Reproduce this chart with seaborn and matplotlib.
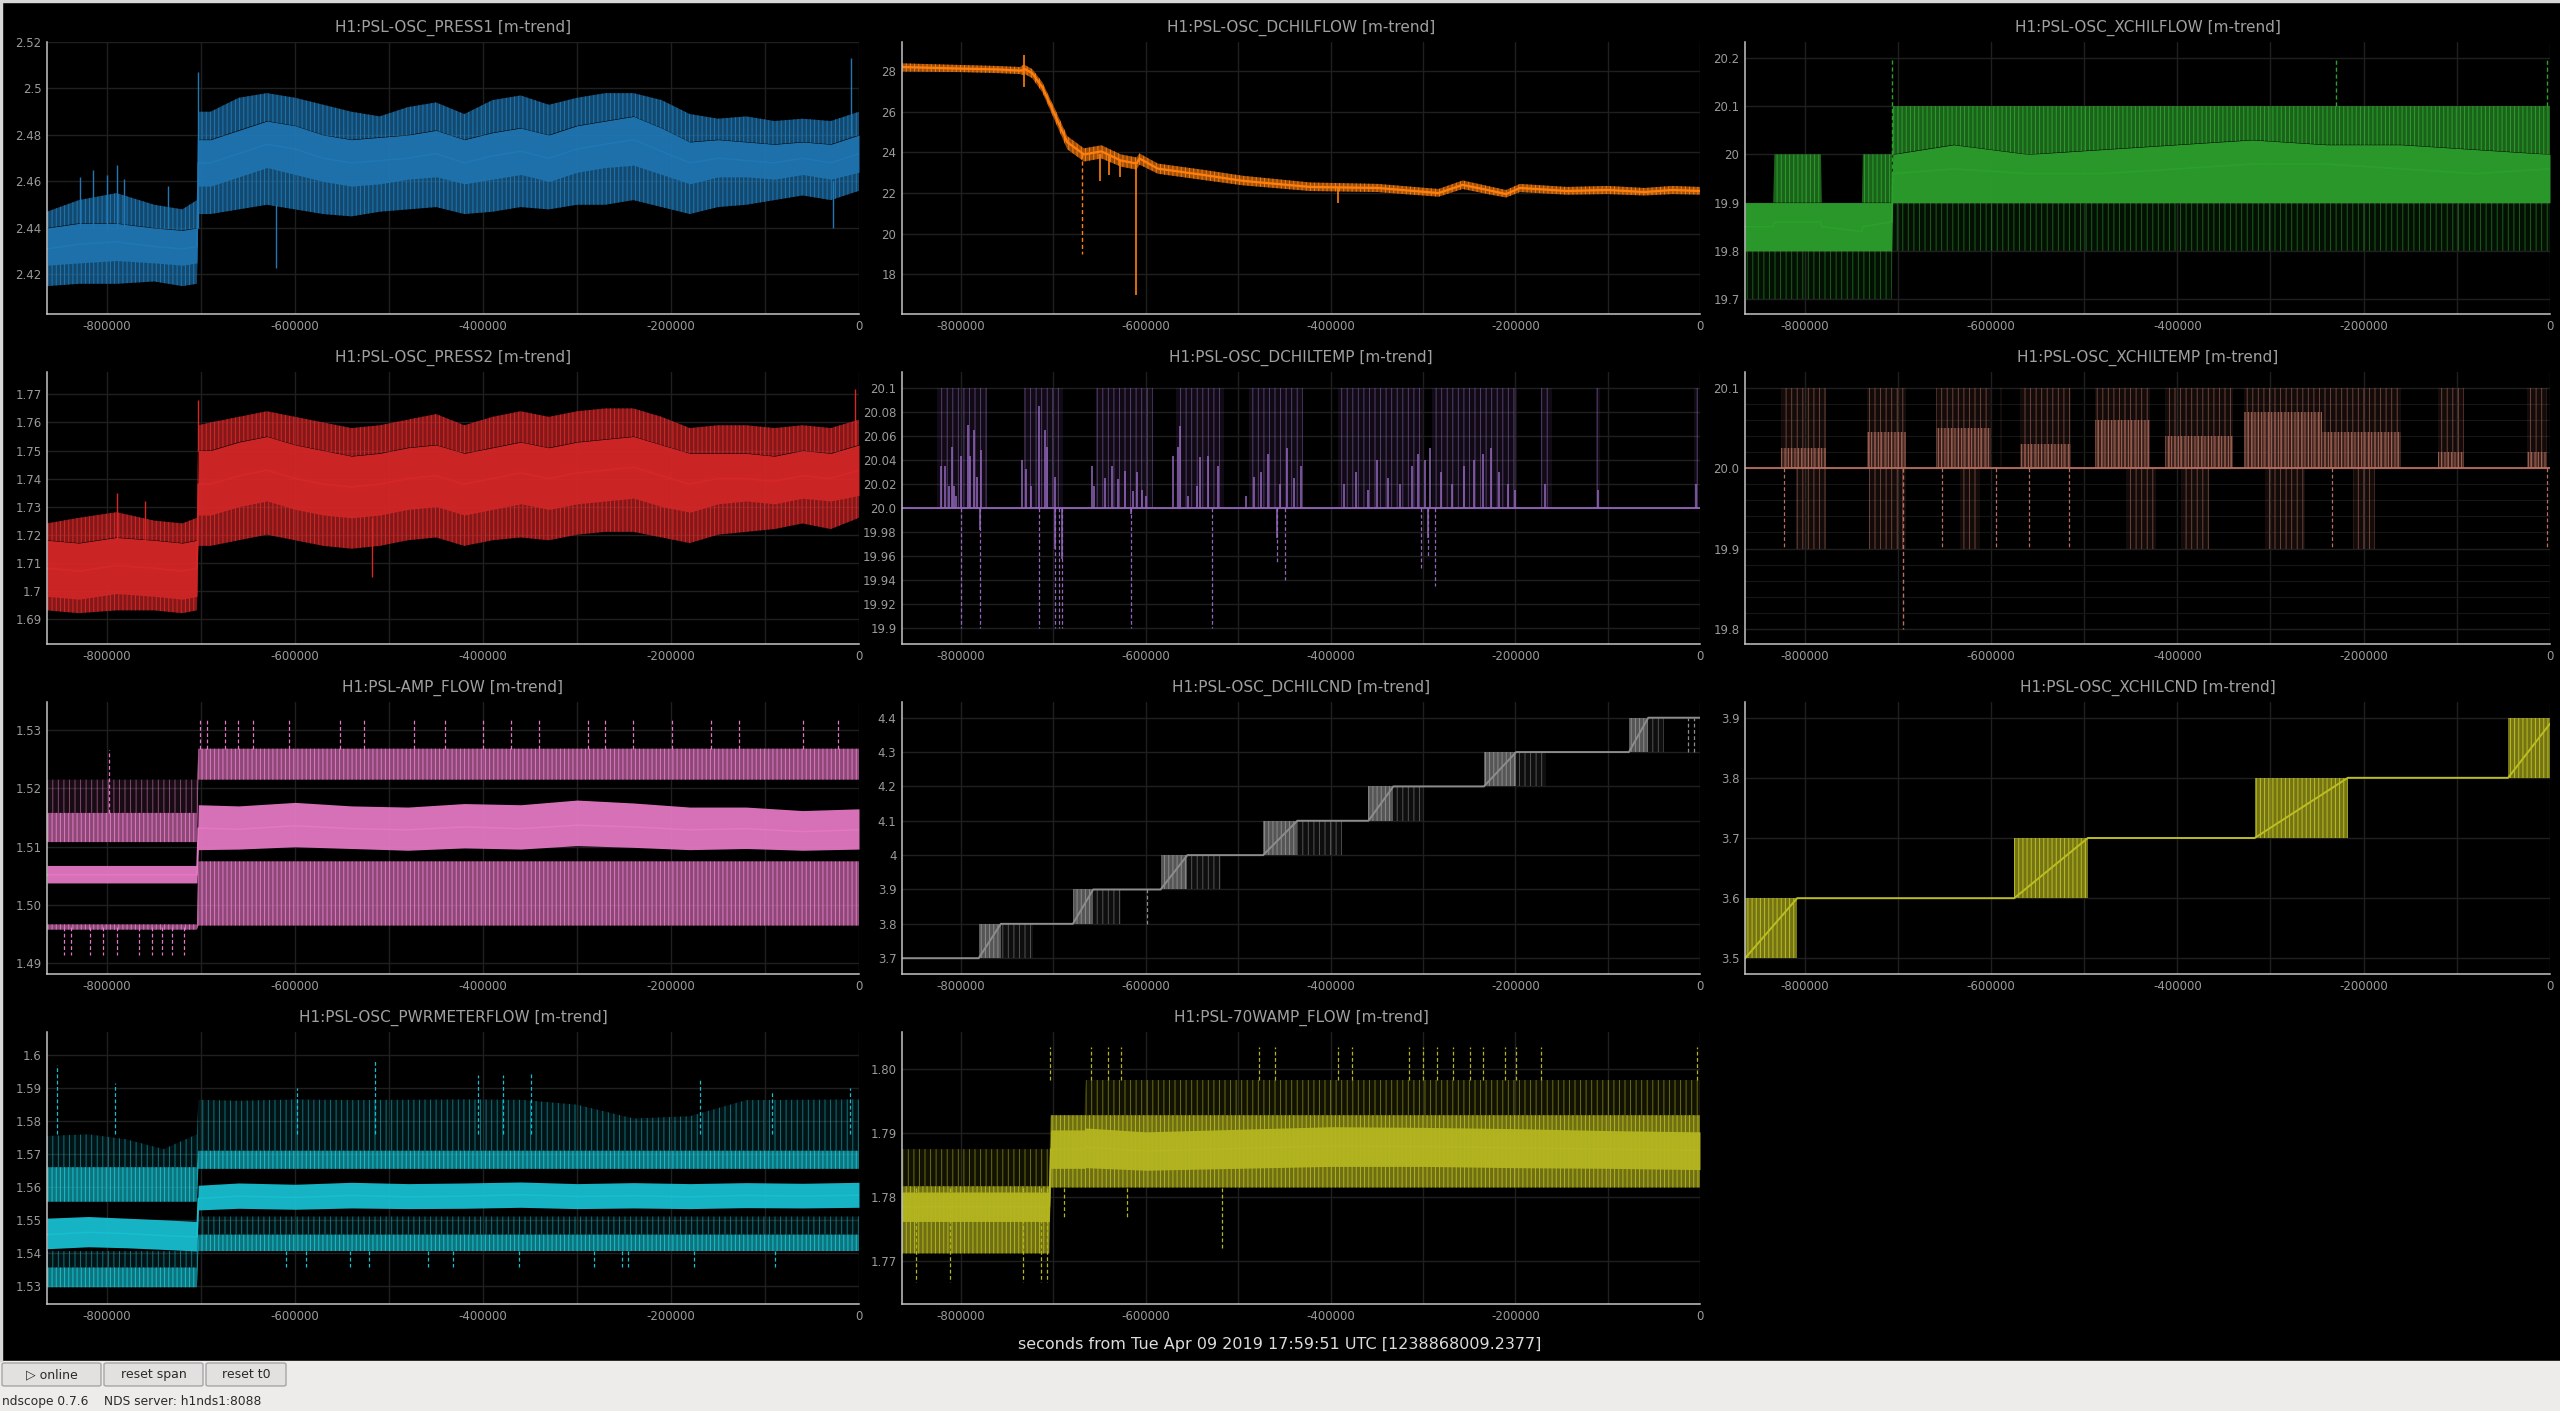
import matplotlib
matplotlib.use("Agg")
import matplotlib.pyplot as plt
import seaborn as sns
from matplotlib.colors import to_rgba
from matplotlib.patches import Rectangle, FancyBboxPatch
from matplotlib.ticker import MultipleLocator, FuncFormatter

# ---------------- data ----------------
XMIN = -864000

# H1:PSL-OSC_PRESS1
p1_t = [-864000, -830000, -790000, -750000, -720000, -704500, -703000, -690000, -660000, -630000, -600000,
        -570000, -540000, -510000, -480000, -450000, -420000, -390000, -360000, -330000, -300000, -270000,
        -240000, -210000, -180000, -150000, -120000, -90000, -60000, -30000, 0]
p1_mean = [2.431, 2.433, 2.434, 2.432, 2.431, 2.432, 2.468, 2.468, 2.472, 2.476, 2.474, 2.470, 2.468, 2.469,
           2.470, 2.472, 2.468, 2.471, 2.473, 2.470, 2.474, 2.476, 2.478, 2.473, 2.468, 2.470, 2.469, 2.468,
           2.470, 2.468, 2.472]
p1_core_lo = [2.424, 2.425, 2.426, 2.425, 2.424, 2.425, 2.458, 2.458, 2.462, 2.466, 2.463, 2.460, 2.458, 2.459,
              2.461, 2.462, 2.459, 2.461, 2.463, 2.460, 2.464, 2.466, 2.467, 2.463, 2.459, 2.462, 2.462, 2.461,
              2.463, 2.461, 2.464]
p1_core_hi = [2.440, 2.442, 2.442, 2.440, 2.439, 2.440, 2.478, 2.478, 2.482, 2.486, 2.484, 2.480, 2.478, 2.479,
              2.480, 2.482, 2.478, 2.481, 2.483, 2.480, 2.484, 2.486, 2.488, 2.483, 2.477, 2.478, 2.477, 2.476,
              2.477, 2.476, 2.480]
p1_min = [2.415, 2.416, 2.416, 2.417, 2.415, 2.416, 2.446, 2.446, 2.448, 2.450, 2.448, 2.446, 2.445, 2.447,
          2.448, 2.449, 2.446, 2.447, 2.449, 2.448, 2.450, 2.450, 2.452, 2.449, 2.446, 2.449, 2.450, 2.452,
          2.454, 2.452, 2.456]
p1_max = [2.447, 2.452, 2.455, 2.450, 2.448, 2.452, 2.490, 2.490, 2.496, 2.498, 2.496, 2.493, 2.490, 2.488,
          2.492, 2.494, 2.489, 2.495, 2.497, 2.493, 2.496, 2.498, 2.498, 2.495, 2.489, 2.487, 2.488, 2.486,
          2.487, 2.486, 2.490]
p1_spikes = [(-829000, 2.44, 2.462), (-815000, 2.44, 2.465), (-800000, 2.44, 2.463), (-790000, 2.44, 2.467),
             (-782000, 2.44, 2.461), (-735000, 2.44, 2.458), (-703500, 2.44, 2.507), (-620000, 2.45, 2.423),
             (-28000, 2.46, 2.44), (-9000, 2.48, 2.513)]

# H1:PSL-OSC_PRESS2
p2_mean = [1.708, 1.707, 1.709, 1.708, 1.707, 1.708, 1.738, 1.738, 1.741, 1.743, 1.740, 1.738, 1.737, 1.738,
           1.740, 1.741, 1.738, 1.740, 1.742, 1.740, 1.742, 1.743, 1.744, 1.741, 1.738, 1.740, 1.740, 1.739,
           1.741, 1.740, 1.743]
p2_core_lo = [1.698, 1.697, 1.699, 1.698, 1.697, 1.698, 1.727, 1.727, 1.730, 1.732, 1.729, 1.727, 1.726, 1.727,
              1.729, 1.730, 1.727, 1.729, 1.731, 1.729, 1.731, 1.732, 1.733, 1.730, 1.728, 1.731, 1.732, 1.731,
              1.733, 1.732, 1.734]
p2_core_hi = [1.718, 1.717, 1.719, 1.718, 1.717, 1.718, 1.750, 1.750, 1.753, 1.755, 1.752, 1.750, 1.748, 1.749,
              1.751, 1.752, 1.749, 1.751, 1.753, 1.751, 1.753, 1.754, 1.755, 1.752, 1.749, 1.749, 1.749, 1.748,
              1.750, 1.749, 1.752]
p2_min = [1.693, 1.692, 1.693, 1.693, 1.692, 1.693, 1.716, 1.716, 1.718, 1.720, 1.718, 1.716, 1.715, 1.716,
          1.718, 1.719, 1.716, 1.718, 1.719, 1.718, 1.720, 1.721, 1.721, 1.719, 1.717, 1.720, 1.721, 1.722,
          1.724, 1.722, 1.726]
p2_max = [1.724, 1.726, 1.728, 1.725, 1.724, 1.726, 1.759, 1.760, 1.762, 1.764, 1.762, 1.760, 1.758, 1.759,
          1.761, 1.763, 1.759, 1.762, 1.764, 1.762, 1.764, 1.765, 1.765, 1.762, 1.758, 1.759, 1.759, 1.758,
          1.759, 1.758, 1.761]
p2_spikes = [(-790000, 1.718, 1.735), (-760000, 1.718, 1.732), (-703500, 1.75, 1.768), (-518000, 1.726, 1.705),
             (-4000, 1.752, 1.772)]

# H1:PSL-OSC_DCHILFLOW
df_t = [-864000, -800000, -760000, -736000, -733000, -731000, -723000, -712000, -698000, -685000, -667000,
        -648000, -627000, -610000, -607000, -587000, -539000, -495000, -422000, -349000, -283000, -257000,
        -230000, -210000, -195000, -144000, -100000, -60000, -30000, 0]
df_mean = [28.20, 28.12, 28.08, 28.02, 28.05, 28.10, 27.90, 27.20, 25.80, 24.50, 23.90, 24.05, 23.60, 23.45,
           23.70, 23.20, 22.90, 22.60, 22.30, 22.25, 22.00, 22.40, 22.15, 21.95, 22.25, 22.10, 22.15, 22.05,
           22.15, 22.10]
df_lo = [27.98, 27.95, 27.90, 27.85, 27.80, 27.85, 27.65, 26.95, 25.50, 24.15, 23.55, 23.70, 23.30, 23.15,
         23.40, 22.95, 22.65, 22.38, 22.10, 22.05, 21.82, 22.20, 21.95, 21.78, 22.05, 21.92, 21.95, 21.88,
         21.95, 21.92]
df_hi = [28.38, 28.30, 28.25, 28.20, 28.30, 28.30, 28.10, 27.45, 26.10, 24.80, 24.20, 24.35, 23.90, 23.75,
         23.95, 23.45, 23.15, 22.85, 22.52, 22.45, 22.20, 22.62, 22.35, 22.15, 22.45, 22.30, 22.35, 22.25,
         22.35, 22.30]
df_spikes = [(-732000, 28.0, 28.8), (-731500, 28.0, 27.2), (-611000, 23.4, 17.0), (-392000, 22.3, 21.5),
             (-650000, 23.9, 22.6), (-640000, 23.8, 22.9), (-628000, 23.6, 22.8)]
df_dashed = [(-669000, 23.9, 19.0)]

# H1:PSL-OSC_XCHILFLOW
xf_t = [-864000, -833500, -832500, -782500, -781500, -738500, -737500, -706500, -705500, -640000, -560000,
        -480000, -400000, -320000, -240000, -160000, -80000, 0]
xf_mean = [19.85, 19.85, 19.86, 19.86, 19.85, 19.84, 19.85, 19.86, 19.96, 19.97, 19.96, 19.96, 19.97, 19.98,
           19.98, 19.97, 19.96, 19.97]
xf_core_lo = [19.80, 19.80, 19.80, 19.80, 19.80, 19.80, 19.80, 19.80, 19.90, 19.90, 19.90, 19.90, 19.90, 19.90,
              19.90, 19.90, 19.90, 19.90]
xf_core_hi = [19.90, 19.90, 19.90, 19.90, 19.90, 19.90, 19.90, 19.90, 20.00, 20.02, 20.00, 20.01, 20.02, 20.03,
              20.02, 20.02, 20.01, 20.00]
xf_min = [19.70, 19.70, 19.70, 19.70, 19.70, 19.70, 19.70, 19.70, 19.80, 19.80, 19.80, 19.80, 19.80, 19.80,
          19.80, 19.80, 19.80, 19.80]
xf_max = [19.90, 19.90, 20.00, 20.00, 19.90, 19.90, 20.00, 20.00, 20.10, 20.10, 20.10, 20.10, 20.10, 20.10,
          20.10, 20.10, 20.10, 20.10]
xf_dashed = [(-706000, 19.9, 20.2), (-230000, 20.1, 20.2), (-3000, 20.1, 20.2)]

# H1:PSL-OSC_DCHILTEMP
dt_bursts = [(-826000, -772000), (-732000, -690000), (-654000, -592000), (-567000, -515000), (-488000, -430000),
             (-392000, -300000), (-290000, -198000), (-172000, -160000), (-113000, -108000), (-6000, -2000)]
dt_up = [(-822000, 20.035), (-817000, 20.035), (-813000, 20.018), (-810000, 20.051), (-808000, 20.018),
         (-806000, 20.01), (-800000, 20.043), (-792500, 20.069), (-790500, 20.043), (-786500, 20.065),
         (-783000, 20.026), (-779000, 20.048), (-734500, 20.04), (-729600, 20.032), (-724500, 20.018),
         (-715500, 20.085), (-709400, 20.065), (-706500, 20.051), (-698600, 20.026), (-658000, 20.035),
         (-655800, 20.018), (-644300, 20.025), (-636400, 20.035), (-629900, 20.024), (-622700, 20.031),
         (-614000, 20.014), (-610000, 20.03), (-604000, 20.015), (-599300, 20.01), (-570800, 20.043),
         (-565000, 20.051), (-562600, 20.068), (-554700, 20.01), (-544600, 20.018), (-541000, 20.042),
         (-533000, 20.043), (-521900, 20.035), (-491800, 20.01), (-483100, 20.026), (-475000, 20.03),
         (-468000, 20.045), (-455000, 20.02), (-447000, 20.05), (-440000, 20.025), (-432000, 20.035),
         (-385000, 20.02), (-372000, 20.03), (-360000, 20.015), (-350000, 20.04), (-338000, 20.025),
         (-325000, 20.02), (-312000, 20.035), (-305000, 20.045), (-298000, 20.04), (-292000, 20.05),
         (-280000, 20.03), (-268000, 20.02), (-255000, 20.035), (-245000, 20.04), (-235000, 20.045),
         (-226000, 20.05), (-218000, 20.03), (-208000, 20.02), (-200000, 20.015), (-168000, 20.02),
         (-110000, 20.015), (-4000, 20.02)]
dt_down = [(-800000, 19.9), (-779500, 19.9), (-715600, 19.9), (-698000, 19.9), (-694000, 19.9), (-691000, 19.9),
           (-616000, 19.9), (-528000, 19.9), (-458000, 19.955), (-449000, 19.94), (-302000, 19.95),
           (-294000, 19.96), (-287000, 19.935)]
dt_dip = [(-779500, 19.982), (-698000, 19.966), (-690800, 19.958), (-616000, 19.995), (-458000, 19.975),
          (-294000, 19.975)]

# H1:PSL-OSC_XCHILTEMP
xt_up = [(-825000, -777000), (-733000, -691000), (-659000, -600000), (-590000, -588000), (-569000, -514000),
         (-488000, -429000), (-413000, -340000), (-328000, -160000), (-120000, -92000), (-25000, -3000)]
xt_fill = [(-825000, -777000, 20.025), (-733000, -691000, 20.045), (-659000, -600000, 20.05),
           (-569000, -514000, 20.03), (-488000, -429000, 20.06), (-413000, -340000, 20.04),
           (-328000, -245000, 20.07), (-245000, -160000, 20.045), (-120000, -92000, 20.02), (-25000, -3000, 20.02)]
xt_down = [(-809000, -776600), (-730600, -691000), (-633200, -611400), (-455100, -422500), (-396000, -366500),
           (-305800, -263300), (-211300, -187700)]
xt_down_single = [-822000, -652700, -594800, -559400, -515800, -233800, -3600]
xt_deep = [(-694000, 20.0, 19.8)]

# H1:PSL-AMP_FLOW
amp_t = [-864000, -704500, -703000, -660000, -600000, -540000, -480000, -420000, -360000, -300000, -240000,
         -180000, -120000, -60000, 0]
amp_mean = [1.5052, 1.5052, 1.5132, 1.5130, 1.5136, 1.5131, 1.5129, 1.5134, 1.5131, 1.5137, 1.5134, 1.5129,
            1.5131, 1.5126, 1.5129]
amp_core_lo = [1.5038, 1.5038, 1.5095, 1.5096, 1.5100, 1.5097, 1.5094, 1.5098, 1.5096, 1.5102, 1.5099, 1.5095,
               1.5097, 1.5094, 1.5096]
amp_core_hi = [1.5068, 1.5068, 1.5172, 1.5170, 1.5176, 1.5170, 1.5168, 1.5174, 1.5172, 1.5180, 1.5175, 1.5168,
               1.5168, 1.5162, 1.5165]
amp_maxd_lo = [1.5108, 1.5108, 1.5215, 1.5215, 1.5215, 1.5215, 1.5215, 1.5215, 1.5215, 1.5215, 1.5215, 1.5215,
               1.5215, 1.5215, 1.5215]
amp_maxd_hi = [1.5158, 1.5158, 1.5268, 1.5268, 1.5268, 1.5268, 1.5268, 1.5268, 1.5268, 1.5268, 1.5268, 1.5268,
               1.5268, 1.5268, 1.5268]
amp_maxs_hi = [1.5215, 1.5215, 1.5268, 1.5268, 1.5268, 1.5268, 1.5268, 1.5268, 1.5268, 1.5268, 1.5268, 1.5268,
               1.5268, 1.5268, 1.5268]
amp_min_lo = [1.4958, 1.4958, 1.4965, 1.4965, 1.4965, 1.4965, 1.4965, 1.4965, 1.4965, 1.4965, 1.4965, 1.4965,
              1.4965, 1.4965, 1.4965]
amp_min_hi = [1.4967, 1.4967, 1.5075, 1.5075, 1.5075, 1.5075, 1.5075, 1.5075, 1.5075, 1.5075, 1.5075, 1.5075,
              1.5075, 1.5075, 1.5075]
amp_up_t = [-701000, -693600, -675000, -661000, -645000, -606000, -552000, -527000, -473000, -441000, -400000,
            -370000, -341000, -288000, -270000, -240000, -199000, -158000, -128000, -60000, -22000]
amp_down_t = [-846000, -838000, -818000, -804000, -790000, -766000, -752000, -742000, -731000, -718000]

# H1:PSL-OSC_DCHILCND
dc_t = [-864000, -781000, -757000, -679000, -657000, -584000, -555000, -473000, -436000, -359000, -332000,
        -234000, -199000, -77000, -56000, 0]
dc_mean = [3.7, 3.7, 3.8, 3.8, 3.9, 3.9, 4.0, 4.0, 4.1, 4.1, 4.2, 4.2, 4.3, 4.3, 4.4, 4.4]
dc_ramps = [(-781000, -757000, 3.7), (-679000, -657000, 3.8), (-584000, -555000, 3.9), (-473000, -436000, 4.0),
            (-359000, -332000, 4.1), (-234000, -199000, 4.2), (-77000, -56000, 4.3)]
dc_tail_end = [-722700, -627000, -518600, -387700, -298800, -166200, -39000]
dc_singles = [(-599000, 3.8, 3.9), (-13000, 4.3, 4.4), (-6000, 4.3, 4.4)]

# H1:PSL-OSC_XCHILCND
xc_t = [-864000, -808000, -575000, -496000, -317000, -217000, -45000, 0]
xc_mean = [3.5, 3.6, 3.6, 3.7, 3.7, 3.8, 3.8, 3.89]
xc_ramps = [(-864000, -808000, 3.5), (-575000, -496000, 3.6), (-317000, -217000, 3.7), (-45000, 0, 3.8)]

# H1:PSL-OSC_PWRMETERFLOW
pw_t = [-864000, -820000, -780000, -740000, -704500, -703000, -660000, -600000, -540000, -480000, -420000,
        -360000, -300000, -240000, -180000, -120000, -60000, 0]
pw_mean = [1.5455, 1.5462, 1.5458, 1.5452, 1.5448, 1.5565, 1.5572, 1.5568, 1.5574, 1.5570, 1.5572, 1.5576,
           1.5571, 1.5573, 1.5570, 1.5574, 1.5572, 1.5575]
pw_core_lo = [1.5412, 1.5418, 1.5415, 1.5410, 1.5405, 1.5530, 1.5535, 1.5532, 1.5536, 1.5534, 1.5535, 1.5538,
              1.5534, 1.5536, 1.5534, 1.5537, 1.5536, 1.5538]
pw_core_hi = [1.5505, 1.5510, 1.5505, 1.5500, 1.5495, 1.5605, 1.5612, 1.5608, 1.5614, 1.5610, 1.5612, 1.5615,
              1.5610, 1.5613, 1.5610, 1.5613, 1.5611, 1.5614]
pw_maxd_lo = [1.5555, 1.5555, 1.5555, 1.5555, 1.5555, 1.5655, 1.5655, 1.5655, 1.5655, 1.5655, 1.5655, 1.5655,
              1.5655, 1.5655, 1.5655, 1.5655, 1.5655, 1.5655]
pw_maxd_hi = [1.5660, 1.5660, 1.5660, 1.5660, 1.5660, 1.5710, 1.5710, 1.5710, 1.5710, 1.5710, 1.5710, 1.5710,
              1.5710, 1.5710, 1.5710, 1.5710, 1.5710, 1.5710]
pw_maxs_hi = [1.5755, 1.5760, 1.5745, 1.5715, 1.5760, 1.5865, 1.5862, 1.5866, 1.5864, 1.5865, 1.5866, 1.5865,
              1.5850, 1.5808, 1.5815, 1.5864, 1.5865, 1.5866]
pw_mind_lo = [1.5295, 1.5295, 1.5295, 1.5295, 1.5295, 1.5405, 1.5405, 1.5405, 1.5405, 1.5405, 1.5405, 1.5405,
              1.5405, 1.5405, 1.5405, 1.5405, 1.5405, 1.5405]
pw_mind_hi = [1.5355, 1.5355, 1.5355, 1.5355, 1.5355, 1.5455, 1.5455, 1.5455, 1.5455, 1.5455, 1.5455, 1.5455,
              1.5455, 1.5455, 1.5455, 1.5455, 1.5455, 1.5455]
pw_mins_hi = [1.5405, 1.5405, 1.5405, 1.5405, 1.5405, 1.5510, 1.5510, 1.5510, 1.5510, 1.5510, 1.5510, 1.5510,
              1.5510, 1.5510, 1.5510, 1.5510, 1.5510, 1.5510]
pw_up = [(-853100, 1.597), (-791600, 1.5915), (-598000, 1.590), (-515000, 1.599), (-405600, 1.594),
         (-379000, 1.594), (-349400, 1.595), (-169200, 1.593), (-92600, 1.589), (-9600, 1.590)]
pw_down_t = [-609600, -588800, -541600, -520900, -458800, -432200, -361300, -281500, -251900, -246000,
             -175100, -89400]

# H1:PSL-70WAMP_FLOW
wa_t = [-864000, -704500, -703000, -667000, -665000, -600000, -500000, -400000, -300000, -200000, -100000, 0]
wa_mean = [1.7785, 1.7785, 1.7875, 1.7875, 1.7878, 1.7872, 1.7876, 1.7880, 1.7879, 1.7877, 1.7875, 1.7873]
wa_core_lo = [1.7762, 1.7762, 1.7845, 1.7845, 1.7846, 1.7842, 1.7845, 1.7848, 1.7848, 1.7846, 1.7845, 1.7843]
wa_core_hi = [1.7808, 1.7808, 1.7905, 1.7905, 1.7908, 1.7902, 1.7906, 1.7910, 1.7909, 1.7907, 1.7904, 1.7902]
wa_dense_lo = [1.7712, 1.7712, 1.7815, 1.7815, 1.7815, 1.7815, 1.7815, 1.7815, 1.7815, 1.7815, 1.7815, 1.7815]
wa_dense_hi = [1.7817, 1.7817, 1.7928, 1.7928, 1.7928, 1.7928, 1.7928, 1.7928, 1.7928, 1.7928, 1.7928, 1.7928]
wa_sparse_hi = [1.7875, 1.7875, 1.7928, 1.7928, 1.7983, 1.7983, 1.7983, 1.7983, 1.7983, 1.7983, 1.7983, 1.7983]
wa_up_t = [-703800, -659200, -641400, -626400, -478000, -460100, -391900, -377100, -314700, -299800, -285000,
           -267200, -249300, -234500, -210800, -198900, -172100, -2900]
wa_down = [(-849200, 1.7667), (-811800, 1.7667), (-733400, 1.7667), (-713800, 1.7667), (-706700, 1.7667),
           (-688800, 1.7767), (-620600, 1.7767), (-517900, 1.7717)]

# ---------------- style ----------------
W, H = 2560, 1411
sns.set_theme(style="dark", rc={"axes.facecolor": "black", "figure.facecolor": "black"})
plt.rcParams["font.family"] = ["DejaVu Sans"]
plt.rcParams["axes.unicode_minus"] = False
plt.rcParams["hatch.linewidth"] = 0.7

cols = [(47, 859), (902, 1700), (1745, 2550)]
rows = [(42, 314), (372, 644), (702, 974), (1032, 1304)]

fig = plt.figure(figsize=(W / 100, H / 100), dpi=100)


def make_ax(c, r):
    x0, x1 = cols[c]
    y0, y1 = rows[r]
    return fig.add_axes([x0 / W, 1 - y1 / H, (x1 - x0) / W, (y1 - y0) / H])


def band(ax, t, lo, hi, color, kind):
    if kind == "core":
        ax.fill_between(t, lo, hi, color=color, alpha=0.95, lw=0)
    elif kind == "dense":
        ax.fill_between(t, lo, hi, facecolor=to_rgba(color, 0.62), edgecolor=to_rgba(color, 1.0),
                        hatch="||||", lw=0)
    elif kind == "lines":
        ax.fill_between(t, lo, hi, facecolor=to_rgba(color, 0.22), edgecolor=to_rgba(color, 0.9),
                        hatch="|||||", lw=0)
    else:
        ax.fill_between(t, lo, hi, facecolor=to_rgba(color, 0.10), edgecolor=to_rgba(color, 0.55),
                        hatch="|||", lw=0)


def spikes(ax, items, color, dashed=False, lw=1.0):
    if not items:
        return
    xs = [s[0] for s in items]
    a = [s[1] for s in items]
    b = [s[2] for s in items]
    ax.vlines(xs, a, b, colors=color, lw=lw, linestyles=(0, (3, 2)) if dashed else "solid")


def mean_line(ax, t, y, color, lw=1.2):
    sns.lineplot(x=t, y=y, ax=ax, color=color, lw=lw, estimator=None, errorbar=None)


def finish(ax, title, yticks, ylabels, ylim, minor=None):
    ax.set_facecolor("black")
    ax.set_xlim(XMIN, 0)
    ax.set_ylim(*ylim)
    ax.xaxis.set_major_locator(MultipleLocator(100000))
    ax.xaxis.set_major_formatter(FuncFormatter(
        lambda v, p: str(int(round(v))) if int(round(v)) % 200000 == 0 else ""))
    ax.set_yticks(yticks)
    ax.set_yticklabels(ylabels)
    if minor is not None:
        ax.set_yticks(minor, minor=True)
        ax.grid(True, which="minor", axis="y", color="#161616", lw=0.8)
    ax.grid(True, which="major", color="#1f1f1f", lw=1.0)
    ax.set_axisbelow(True)
    for s in ("top", "right"):
        ax.spines[s].set_visible(False)
    for s in ("left", "bottom"):
        ax.spines[s].set_color("#c4c4c4")
        ax.spines[s].set_linewidth(1.1)
    ax.tick_params(which="both", length=0, colors="#9a9a9a", labelsize=8.5, pad=4)
    ax.set_xlabel("")
    ax.set_ylabel("")
    ax.set_title(title, color="#a0a0a0", fontsize=11, pad=7)


# ---- PRESS1 ----
c = "#1f77b4"
ax = make_ax(0, 0)
band(ax, p1_t, p1_min, p1_core_lo, c, "dense")
band(ax, p1_t, p1_core_hi, p1_max, c, "dense")
band(ax, p1_t, p1_core_lo, p1_core_hi, c, "core")
mean_line(ax, p1_t, p1_mean, c)
spikes(ax, p1_spikes, c)
finish(ax, "H1:PSL-OSC_PRESS1 [m-trend]", [2.42, 2.44, 2.46, 2.48, 2.50, 2.52],
       ["2.42", "2.44", "2.46", "2.48", "2.5", "2.52"], (2.403, 2.52))

# ---- DCHILFLOW ----
c = "#ff7f0e"
ax = make_ax(1, 0)
band(ax, df_t, df_lo, df_hi, c, "dense")
mean_line(ax, df_t, df_mean, c, lw=1.6)
spikes(ax, df_spikes, c, lw=1.2)
spikes(ax, df_dashed, c, dashed=True, lw=1.0)
finish(ax, "H1:PSL-OSC_DCHILFLOW [m-trend]", [18, 20, 22, 24, 26, 28],
       ["18", "20", "22", "24", "26", "28"], (16.05, 29.43))

# ---- XCHILFLOW ----
c = "#2ca02c"
ax = make_ax(2, 0)
band(ax, xf_t, xf_min, xf_core_lo, c, "sparse")
band(ax, xf_t, xf_core_hi, xf_max, c, "dense")
band(ax, xf_t, xf_core_lo, xf_core_hi, c, "core")
mean_line(ax, xf_t, xf_mean, c)
spikes(ax, xf_dashed, c, dashed=True)
finish(ax, "H1:PSL-OSC_XCHILFLOW [m-trend]", [19.7, 19.8, 19.9, 20.0, 20.1, 20.2],
       ["19.7", "19.8", "19.9", "20", "20.1", "20.2"], (19.669, 20.233))

# ---- PRESS2 ----
c = "#d62728"
ax = make_ax(0, 1)
band(ax, p1_t, p2_min, p2_core_lo, c, "dense")
band(ax, p1_t, p2_core_hi, p2_max, c, "dense")
band(ax, p1_t, p2_core_lo, p2_core_hi, c, "core")
mean_line(ax, p1_t, p2_mean, c)
spikes(ax, p2_spikes, c)
finish(ax, "H1:PSL-OSC_PRESS2 [m-trend]", [1.69, 1.70, 1.71, 1.72, 1.73, 1.74, 1.75, 1.76, 1.77],
       ["1.69", "1.7", "1.71", "1.72", "1.73", "1.74", "1.75", "1.76", "1.77"], (1.681, 1.778))

# ---- DCHILTEMP ----
c = "#9467bd"
ax = make_ax(1, 1)
for t0, t1 in dt_bursts:
    band(ax, [t0, t1], [20.0, 20.0], [20.1, 20.1], c, "sparse")
spikes(ax, [(t, 20.0, v) for t, v in dt_up], c, lw=1.1)
spikes(ax, [(t, 20.0, v) for t, v in dt_down], c, dashed=True, lw=0.9)
spikes(ax, [(t, 20.0, v) for t, v in dt_dip], c, lw=1.1)
mean_line(ax, [XMIN, 0], [20.0, 20.0], c, lw=1.3)
finish(ax, "H1:PSL-OSC_DCHILTEMP [m-trend]",
       [19.9, 19.92, 19.94, 19.96, 19.98, 20.0, 20.02, 20.04, 20.06, 20.08, 20.1],
       ["19.9", "19.92", "19.94", "19.96", "19.98", "20.0", "20.02", "20.04", "20.06", "20.08", "20.1"],
       (19.887, 20.113))

# ---- XCHILTEMP ----
c = "#b86f5f"
ax = make_ax(2, 1)
for t0, t1 in xt_up:
    band(ax, [t0, t1], [20.0, 20.0], [20.1, 20.1], c, "sparse")
for t0, t1, pk in xt_fill:
    band(ax, [t0, t1], [20.0, 20.0], [pk, pk], c, "lines")
for t0, t1 in xt_down:
    band(ax, [t0, t1], [19.9, 19.9], [20.0, 20.0], c, "sparse")
spikes(ax, [(t, 20.0, 19.9) for t in xt_down_single], c, dashed=True, lw=0.9)
spikes(ax, xt_deep, c, dashed=True, lw=1.0)
mean_line(ax, [XMIN, 0], [20.0, 20.0], c, lw=1.3)
finish(ax, "H1:PSL-OSC_XCHILTEMP [m-trend]", [19.8, 19.9, 20.0, 20.1],
       ["19.8", "19.9", "20.0", "20.1"], (19.781, 20.12),
       minor=[19.82, 19.84, 19.86, 19.88, 19.92, 19.94, 19.96, 19.98, 20.02, 20.04, 20.06, 20.08])

# ---- AMP_FLOW ----
c = "#e377c2"
ax = make_ax(0, 2)
band(ax, amp_t, amp_min_lo, amp_min_hi, c, "dense")
band(ax, amp_t, amp_maxd_lo, amp_maxd_hi, c, "dense")
band(ax, amp_t, amp_maxd_hi, amp_maxs_hi, c, "sparse")
band(ax, amp_t, amp_core_lo, amp_core_hi, c, "core")
mean_line(ax, amp_t, amp_mean, c)
spikes(ax, [(t, 1.5268, 1.532) for t in amp_up_t], c, dashed=True, lw=0.9)
spikes(ax, [(t, 1.4962, 1.4915) for t in amp_down_t], c, dashed=True, lw=0.9)
spikes(ax, [(-798000, 1.5158, 1.5265)], c, dashed=True, lw=0.9)
finish(ax, "H1:PSL-AMP_FLOW [m-trend]", [1.49, 1.50, 1.51, 1.52, 1.53],
       ["1.49", "1.50", "1.51", "1.52", "1.53"], (1.4882, 1.5348))

# ---- DCHILCND ----
c = "#8c8c8c"
ax = make_ax(1, 2)
for (t0, t1, lv), te in zip(dc_ramps, dc_tail_end):
    band(ax, [t0, t1], [lv, lv], [lv + 0.1, lv + 0.1], c, "dense")
    band(ax, [t1, te], [lv, lv], [lv + 0.1, lv + 0.1], c, "sparse")
spikes(ax, dc_singles, c, dashed=True, lw=0.9)
mean_line(ax, dc_t, dc_mean, c, lw=1.4)
finish(ax, "H1:PSL-OSC_DCHILCND [m-trend]", [3.7, 3.8, 3.9, 4.0, 4.1, 4.2, 4.3, 4.4],
       ["3.7", "3.8", "3.9", "4", "4.1", "4.2", "4.3", "4.4"], (3.654, 4.4457))

# ---- XCHILCND ----
c = "#bcbd22"
ax = make_ax(2, 2)
for t0, t1, lv in xc_ramps:
    band(ax, [t0, t1], [lv, lv], [lv + 0.1, lv + 0.1], c, "dense")
mean_line(ax, xc_t, xc_mean, c, lw=1.4)
finish(ax, "H1:PSL-OSC_XCHILCND [m-trend]", [3.5, 3.6, 3.7, 3.8, 3.9],
       ["3.5", "3.6", "3.7", "3.8", "3.9"], (3.474, 3.926))

# ---- PWRMETERFLOW ----
c = "#17becf"
ax = make_ax(0, 3)
band(ax, pw_t, pw_mind_lo, pw_mind_hi, c, "dense")
band(ax, pw_t, pw_mind_hi, pw_mins_hi, c, "sparse")
band(ax, pw_t, pw_maxd_lo, pw_maxd_hi, c, "dense")
band(ax, pw_t, pw_maxd_hi, pw_maxs_hi, c, "sparse")
band(ax, pw_t, pw_core_lo, pw_core_hi, c, "core")
mean_line(ax, pw_t, pw_mean, c)
spikes(ax, [(t, 1.576, v) for t, v in pw_up], c, dashed=True, lw=0.9)
spikes(ax, [(t, 1.5405, 1.5355) for t in pw_down_t], c, dashed=True, lw=0.9)
finish(ax, "H1:PSL-OSC_PWRMETERFLOW [m-trend]", [1.53, 1.54, 1.55, 1.56, 1.57, 1.58, 1.59, 1.60],
       ["1.53", "1.54", "1.55", "1.56", "1.57", "1.58", "1.59", "1.6"], (1.5244, 1.6071))

# ---- 70WAMP_FLOW ----
c = "#b4b51f"
ax = make_ax(1, 3)
band(ax, wa_t, wa_dense_hi, wa_sparse_hi, c, "sparse")
band(ax, wa_t, wa_dense_lo, wa_dense_hi, c, "dense")
band(ax, wa_t, wa_core_lo, wa_core_hi, c, "core")
mean_line(ax, wa_t, wa_mean, c)
spikes(ax, [(t, 1.7983, 1.8034) for t in wa_up_t], c, dashed=True, lw=0.9)
spikes(ax, [(t, 1.7815, v) for t, v in wa_down], c, dashed=True, lw=0.9)
finish(ax, "H1:PSL-70WAMP_FLOW [m-trend]", [1.77, 1.78, 1.79, 1.80],
       ["1.77", "1.78", "1.79", "1.80"], (1.7633, 1.8058))

# ---- window chrome ----
fig.text(0.5, 1 - 1344 / H, "seconds from Tue Apr 09 2019 17:59:51 UTC [1238868009.2377]",
         ha="center", va="center", color="#dcdcdc", fontsize=11.5)
fig.patches.append(Rectangle((0, 0), 1, 50 / H, transform=fig.transFigure, color="#edeceb", zorder=0))
fig.patches.append(Rectangle((0, 1 - 2 / H), 1, 2 / H, transform=fig.transFigure, color="#d8d8d8"))
fig.patches.append(Rectangle((0, 50 / H), 2 / W, 1, transform=fig.transFigure, color="#d8d8d8"))
buttons = [("\u25b7 online", 2, 101), ("reset span", 104, 203), ("reset t0", 206, 286)]
for label, bx0, bx1 in buttons:
    fig.patches.append(FancyBboxPatch((bx0 / W, 25 / H), (bx1 - bx0) / W, 23 / H,
                                      boxstyle="round,pad=0,rounding_size=0.001",
                                      transform=fig.transFigure, facecolor="#e2e1df", edgecolor="#a6a6a6",
                                      lw=1.0))
    fig.text((bx0 + bx1) / 2 / W, 36.5 / H, label, ha="center", va="center", color="#2a2a2a", fontsize=9)
fig.text(2 / W, 9 / H, "ndscope 0.7.6    NDS server: h1nds1:8088", ha="left", va="center",
         color="#2a2a2a", fontsize=8.8)

fig.savefig("out.png", dpi=100, facecolor="black")
